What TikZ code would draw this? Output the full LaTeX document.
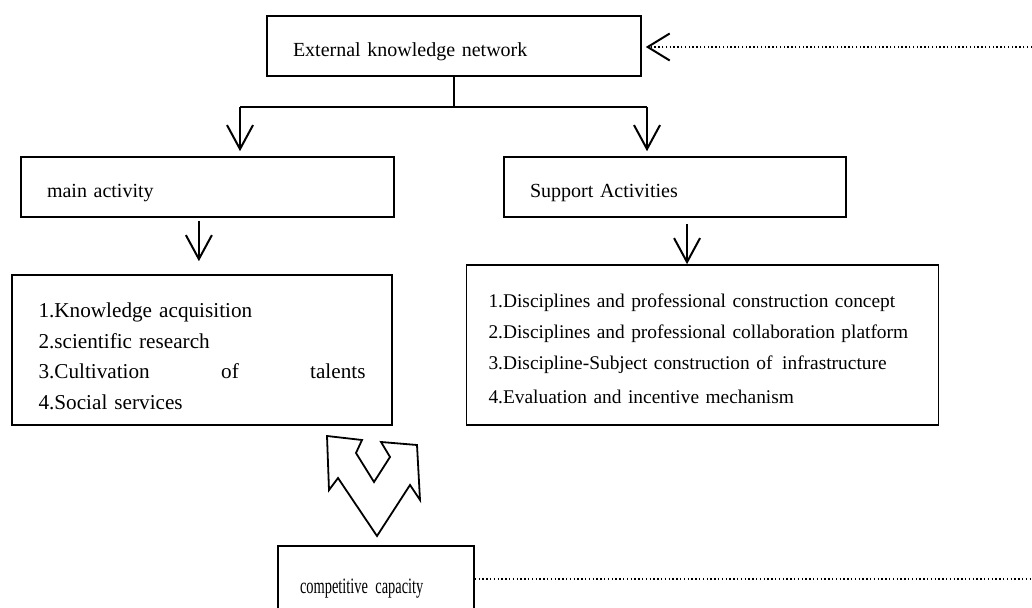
\documentclass[tikz,border=0pt]{standalone}
\usepackage{fontspec}
\setmainfont{Liberation Serif}
\newfontfamily\narrowfont{Liberation Serif}[FakeStretch=0.655]
\usetikzlibrary{arrows.meta,calc}
\tikzset{
  box/.style={draw,line width=0.8pt,align=left,inner xsep=13pt,inner ysep=0pt,
    font=\fontsize{10}{15.5}\selectfont},
  onebox/.style={box,minimum height=30pt,text height=13pt},
  link/.style={line width=0.8pt},
  arr/.style={-{Straight Barb[length=12pt,width=13pt,line width=1pt]},line width=0.9pt},
  dotline/.style={line width=0.7pt,dash pattern=on 0.7pt off 1.2pt},
}

\begin{document}
\begin{tikzpicture}[x=0.5pt,y=-0.5pt]
\useasboundingbox (0,0) rectangle (1032,608);
\clip (0,0) rectangle (1032,608);

\node[onebox,text width=161pt] (ext) at (454,46) {External knowledge network};
\node[onebox,text width=160.5pt] (main) at (207.5,187) {main activity};
\node[onebox,text width=145pt] (sup) at (675,187) {Support Activities};
\node[box,text width=163.5pt,inner xsep=13.25pt,minimum height=75pt,
  font=\fontsize{10.6}{15.3}\selectfont] (mainlist) at (202,350)
  {\rule{0pt}{13.5pt}1.Knowledge acquisition\\
   2.scientific research\\
   \makebox[163.5pt][l]{3.Cultivation\hfill of\hfill talents}\\
   4.Social services};
\node[box,text width=214pt,inner xsep=11pt,minimum height=80pt,
  font=\fontsize{9.7}{15.5}\selectfont] (suplist) at (702.5,345)
  {\rule{0pt}{10.5pt}1.Disciplines and professional construction concept\\
   2.Disciplines and professional collaboration platform\\
   3.Discipline-Subject construction of\, infrastructure\\[1.5pt]
   4.Evaluation and incentive mechanism};
\node[box,text width=76pt,inner xsep=11pt,minimum height=40pt,text height=10pt,
  font=\narrowfont\fontsize{11}{12}\selectfont] (cap) at (376,586) {competitive capacity};

% split below the network box
\coordinate (jl) at (240,107);
\coordinate (jr) at (647,107);
\draw[link] (ext.south) -- (ext.south |- jl);
\draw[link] (jl) -- (jr);
\draw[arr,shorten >=2.5pt] (jl) -- (jl |- main.north);
\draw[arr,shorten >=2.5pt] (jr) -- (jr |- sup.north);

\coordinate (m1) at ($(main.south west)!.477!(main.south east)$);
\coordinate (s1) at ($(sup.south west)!.535!(sup.south east)$);
\draw[arr,shorten <=1.5pt,shorten >=6.5pt] (m1) -- (m1 |- mainlist.north);
\draw[arr,shorten <=3pt] (s1) -- (s1 |- suplist.north);

% feedback lines to the right edge
\coordinate (extin) at (1032,47);
\coordinate (capout) at (1032,579);
\draw[dotline,-{Straight Barb[length=11pt,width=13.5pt,line width=1pt]},shorten >=2pt]
  (extin) -- (ext.east |- extin);
\draw[dotline] (cap.east |- capout) -- (capout);

% double arrow between the lists and the capacity box
\draw[line width=0.9pt,fill=white,line join=miter]
  (327,436) -- (362,440) -- (356,453) -- (374,482) -- (390,457) -- (381,442)
  -- (417,445) -- (420,500) -- (410,485) -- (377,536) -- (338,478) -- (329,490) -- cycle;
\end{tikzpicture}
\end{document}
